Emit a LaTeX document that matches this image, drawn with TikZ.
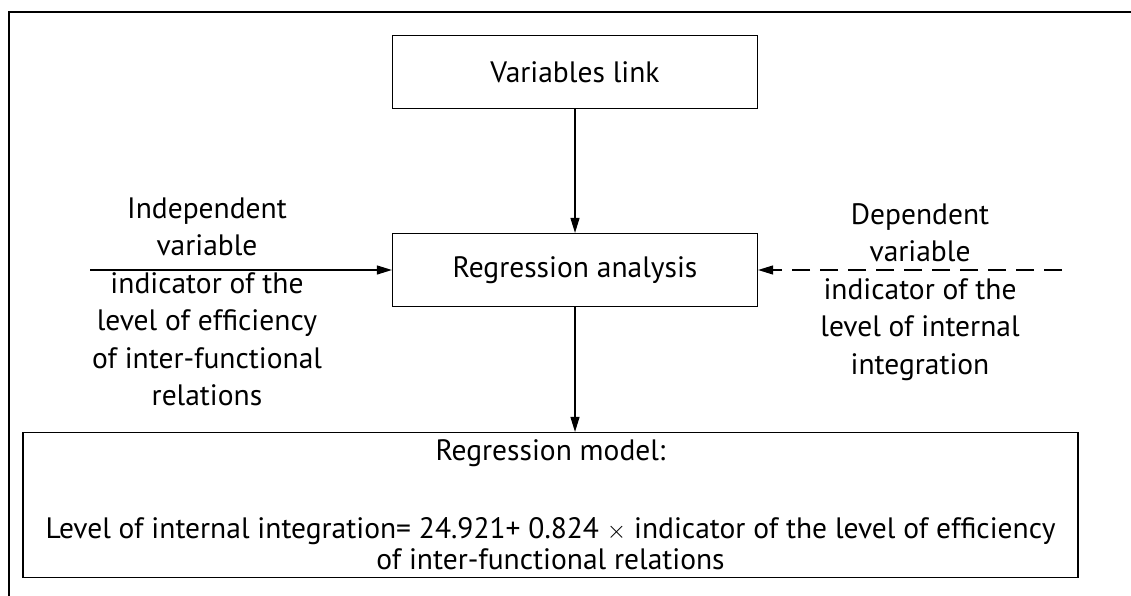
\documentclass[tikz,border=0pt]{standalone}
\usepackage{fontspec}
\setmainfont{PT Sans}
\usetikzlibrary{arrows.meta,positioning}

\tikzset{
  blockbox/.style={draw,line width=1.2pt,minimum width=365pt,minimum height=73pt,
    inner sep=0pt,font=\fontsize{29.5}{37.5}\selectfont},
  varlabel/.style={align=center,inner sep=0pt,font=\fontsize{29.5}{37.5}\selectfont},
  flow/.style={line width=1.2pt,-{Triangle[length=15pt,width=9pt]}},
}

\begin{document}
\begin{tikzpicture}[x=1pt,y=-1pt]
  \useasboundingbox (0,0) rectangle (1131,596);

  % ---- Outer frame (only top and left show) --------------------
  \draw[line width=1.8pt] (9,596) -- (9,12) -- (1131,12);

  % ---- Main blocks ---------------------------------------------
  \node[blockbox] (link) at (575,72) {Variables link};
  \node[blockbox] (regr) at (575,270) {Regression analysis};
  \node[blockbox,minimum width=1055pt,minimum height=145pt,align=center]
    (model) at (550.5,505)
    {Regression model:\\[40pt]
     Level of internal integration= 24.921+ 0.824 $\times$ indicator of the level of efficiency\\[-6pt]
     of inter-functional relations};

  % ---- Variable labels -----------------------------------------
  \node[varlabel] (indep) at (207,302)
    {Independent\\ variable\\ indicator of the\\ level of efficiency\\
     of inter-functional\\ relations};
  \node[varlabel] (dep) at (920,292)
    {Dependent\\ variable\\ indicator of the\\ level of internal\\ integration};
  \coordinate (instart) at (90,270);
  \coordinate (depstart) at (1062,270);

  % ---- Connectors ----------------------------------------------
  \draw[flow] (link) -- (regr);
  \draw[flow] (regr.south) -- (regr.south |- model.north);
  \draw[flow] (instart) -- (regr.west);
  \draw[flow,dash pattern=on 18pt off 10pt] (depstart) -- (regr.east);

\end{tikzpicture}
\end{document}
